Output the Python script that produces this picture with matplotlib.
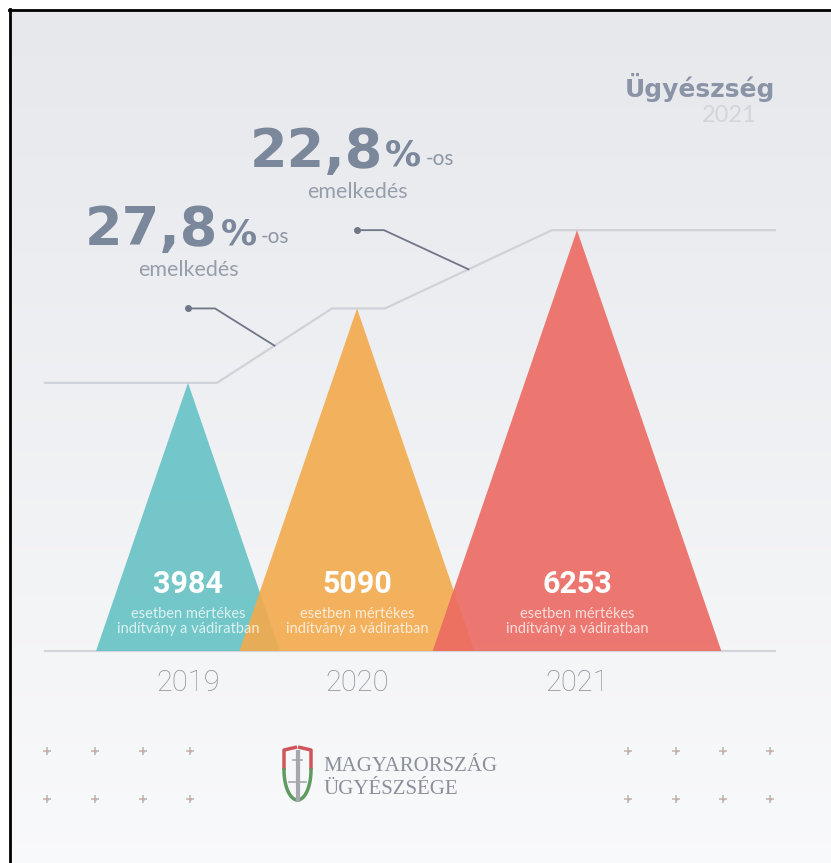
import numpy as np
import matplotlib
matplotlib.use('Agg')
import matplotlib.pyplot as plt
from matplotlib.patches import Polygon

# data
years = ['2019', '2020', '2021']
cases = [3984, 5090, 6253]
colors = ['#66c2c5', '#f3aa4c', '#ec6a62']
caption = 'esetben mértékes\nindítvány a vádiratban'
title = 'Ügyészség'
subtitle = '2021'
logo_lines = ['MAGYARORSZÁG', 'ÜGYÉSZSÉGE']

W, H = 831, 863
fig = plt.figure(figsize=(W / 100, H / 100), dpi=100)
fig.patch.set_facecolor('white')

# background / decoration axes in pixel coords
bg = fig.add_axes([0, 0, 1, 1])
bg.set_xlim(0, W)
bg.set_ylim(H, 0)
bg.axis('off')
grad = np.linspace(0, 1, 256).reshape(-1, 1)
top = np.array([0.905, 0.910, 0.925])
bot = np.array([0.975, 0.978, 0.983])
img = top + (bot - top) * grad[..., None]
bg.imshow(img, extent=[11, W, H, 11], aspect='auto', zorder=0)
bg.plot([10, 10], [9, H], color='black', lw=2, zorder=5)
bg.plot([9, W], [10, 10], color='black', lw=2, zorder=5)

# main chart axes: x in px, y in case count, baseline at y=651 px
scale = 0.0673          # px per case
y_lo = -(H - 651) / scale
y_hi = 651 / scale
ax = fig.add_axes([0, 0, 1, 1], facecolor='none')
ax.set_xlim(0, W)
ax.set_ylim(y_lo, y_hi)
ax.axis('off')

centers = [188, 357, 577]
half_w = 0.343 * scale      # half-width in px per case

ax.plot([45, 775], [0, 0], color='#d3d5da', lw=1.6, zorder=1)
for cx, v, c in zip(centers, cases, colors):
    hw = v * half_w
    ax.add_patch(Polygon([(cx - hw, 0), (cx, v), (cx + hw, 0)], closed=True,
                         facecolor=c, edgecolor='none', alpha=0.9, zorder=2))
    ax.text(cx, 995, f'{v}', color='white', fontsize=22, fontweight='bold',
            family=['Roboto', 'DejaVu Sans'], ha='center', va='center', zorder=4)
    ax.text(cx, 440, caption, color='white', alpha=0.75, fontsize=10.5,
            family=['Lato', 'DejaVu Sans'], ha='center', va='center',
            linespacing=1.15, zorder=4)

for cx, yr in zip(centers, years):
    ax.text(cx, -480, yr, color='#8b9099', fontsize=21, fontweight='light',
            family=['Roboto', 'DejaVu Sans'], ha='center', va='center')

# step line through the levels
sx = [45, 217, 332, 385, 552, 775]
sy = [cases[0], cases[0], cases[1], cases[1], cases[2], cases[2]]
ax.plot(sx, sy, color='#cfd2d8', lw=1.6, zorder=1, solid_joinstyle='miter')

# growth annotations
txt_col = '#7b879b'
ann_pos = [(85, 200), (250, 122)]     # left x, top y (px) of the big number
for i in range(1, len(cases)):
    pct = (cases[i] / cases[i - 1] - 1) * 100
    label = f'{pct:.1f}'.replace('.', ',')
    # pointer from dot to middle of rising segment
    x0, x1 = sx[2 * i - 1], sx[2 * i]
    mx, my = (x0 + x1) / 2, (cases[i - 1] + cases[i]) / 2
    dx = centers[i - 1]
    ax.plot([dx, dx + 27, mx], [cases[i], cases[i], my], color='#6f7686', lw=1.3, zorder=3)
    ax.plot(dx, cases[i], 'o', ms=4, color='#6f7686', zorder=3)

    lx, ly = ann_pos[i - 1]
    t = bg.text(lx, ly + 45, label, color=txt_col, fontsize=39, fontweight='bold',
                family='DejaVu Sans', ha='left', va='baseline')
    fig.canvas.draw()
    xr = t.get_window_extent().x1
    bg.text(xr + 2, ly + 44, '%', color=txt_col, fontsize=26, fontweight='bold',
            family='DejaVu Sans', ha='left', va='baseline')
    bg.text(xr + 42, ly + 43, '-os', color='#8e96a4', fontsize=15,
            family=['Lato', 'DejaVu Sans'], ha='left', va='baseline')
    bg.text(dx, ly + 70, 'emelkedés', color='#979eab', fontsize=15.5,
            family=['Lato', 'DejaVu Sans'], ha='center', va='center')

# title
bg.text(775, 87, title, color='#8a94a6', fontsize=18, fontweight='bold',
        family=['DejaVu Sans'], ha='right', va='center')
bg.text(757, 115, subtitle, color='#d2d5db', fontsize=17,
        family=['Lato', 'DejaVu Sans'], ha='right', va='center')

# sparkles
for sxp in [47, 95, 143, 190, 628, 676, 723, 770]:
    for syp in [751, 799]:
        bg.plot(sxp, syp, marker='+', ms=6, mew=1.2, color='#b9bfb3')
        bg.plot(sxp, syp, marker='.', ms=2, color='#d9a3a3')

# logo shield
th = np.linspace(0, np.pi, 30)
bg.plot([284, 284, 297], [770, 750, 747], color='#d0545a', lw=2.5, solid_capstyle='butt')
bg.plot([311, 311, 298], [770, 750, 747], color='#d0545a', lw=2.5, solid_capstyle='butt')
bg.plot(297.5 + 13.5 * np.cos(th), 770 + 30 * np.sin(th), color='#5f9a60', lw=2.5)
bg.plot([297.5, 297.5], [752, 800], color='#a4a8ae', lw=3)
bg.plot([289, 306], [782, 782], color='#a4a8ae', lw=1.2)
bg.plot([293, 302], [760, 760], color='#a4a8ae', lw=1.2)
bg.text(323, 766, logo_lines[0], color='#8a8f99', fontsize=15,
        family=['Liberation Serif', 'DejaVu Serif'], ha='left', va='center')
bg.text(323, 789, logo_lines[1], color='#8a8f99', fontsize=15,
        family=['Liberation Serif', 'DejaVu Serif'], ha='left', va='center')

fig.savefig('out.png', dpi=100, facecolor=fig.get_facecolor())
